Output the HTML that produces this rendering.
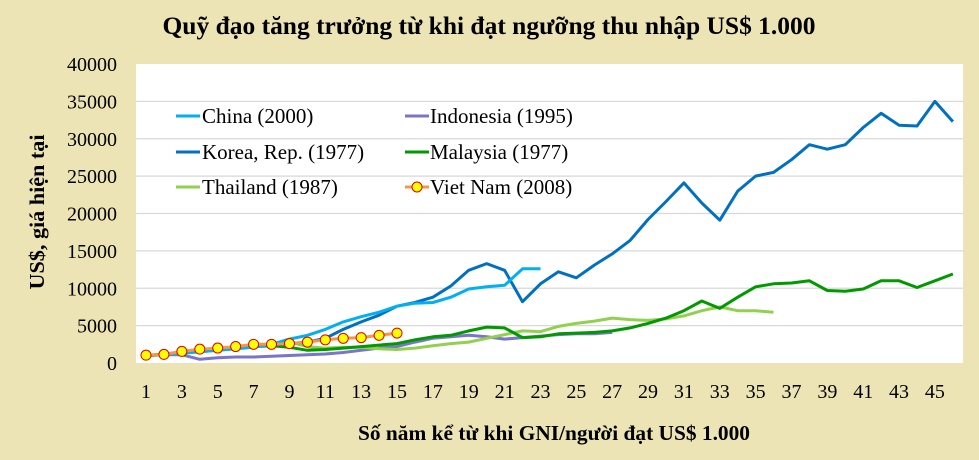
<!DOCTYPE html>
<html><head><meta charset="utf-8"><style>
body{margin:0;background:#ece4b4;}
svg{display:block;font-family:"Liberation Serif",serif;}
</style></head><body>
<svg id="s" width="979" height="460" xmlns="http://www.w3.org/2000/svg">
<rect width="979" height="460" fill="#ece4b4"/>
<rect x="136" y="64" width="827" height="299" fill="#fff"/>
<g id="grid" stroke="#d9d9d9" stroke-width="1.3"></g>
<g id="ylab" font-size="20" text-anchor="end" fill="#000"></g>
<g id="xlab" font-size="20" text-anchor="middle" fill="#000"></g>
<text x="489" y="34" font-size="25" font-weight="bold" text-anchor="middle" textLength="653" lengthAdjust="spacingAndGlyphs">Quỹ đạo tăng trưởng từ khi đạt ngưỡng thu nhập US$ 1.000</text>
<text x="554" y="440" font-size="21" font-weight="bold" text-anchor="middle" textLength="392" lengthAdjust="spacingAndGlyphs">Số năm kể từ khi GNI/người đạt US$ 1.000</text>
<text transform="translate(44,212) rotate(-90)" font-size="21" font-weight="bold" text-anchor="middle" textLength="155" lengthAdjust="spacingAndGlyphs">US$, giá hiện tại</text>
<g id="series" fill="none" stroke-width="3" stroke-linejoin="round"></g>
<g font-size="21" fill="#000">
<line x1="176" y1="116" x2="200" y2="116" stroke="#00b0f0" stroke-width="3"/><text x="202" y="123">China (2000)</text>
<line x1="405" y1="116" x2="429" y2="116" stroke="#7b74cc" stroke-width="3"/><text x="430" y="123">Indonesia (1995)</text>
<line x1="176" y1="152" x2="200" y2="152" stroke="#0070c0" stroke-width="3"/><text x="202" y="159">Korea, Rep. (1977)</text>
<line x1="405" y1="152" x2="429" y2="152" stroke="#009a00" stroke-width="3"/><text x="430" y="159">Malaysia  (1977)</text>
<line x1="176" y1="187" x2="200" y2="187" stroke="#92d050" stroke-width="3"/><text x="202" y="194">Thailand (1987)</text>
<line x1="405" y1="187" x2="429" y2="187" stroke="#f79646" stroke-width="3"/><circle cx="417" cy="187" r="5" fill="#ffff00" stroke="#e00000" stroke-width="1"/><text x="430" y="194">Viet Nam (2008)</text>
</g>
</svg>
<script>
var NS="http://www.w3.org/2000/svg";
function X(i){return 146+(i-1)*17.93;}
function Y(v){return 363-v*0.007475;}
function el(t,a,p){var e=document.createElementNS(NS,t);for(var k in a)e.setAttribute(k,a[k]);document.getElementById(p).appendChild(e);return e;}
for(var v=5000;v<=35000;v+=5000)el('line',{x1:136,x2:963,y1:Y(v),y2:Y(v)},'grid');
for(var v=0;v<=40000;v+=5000){var t=el('text',{x:117,y:Y(v)+7},'ylab');t.textContent=v;}
for(var i=1;i<=45;i+=2){var t=el('text',{x:X(i),y:398},'xlab');t.textContent=i;}
var S=[
["#7b74cc",[1000,1100,1100,500,700,800,800,900,1000,1100,1200,1400,1700,2000,2200,2800,3300,3500,3700,3500,3200,3400,3600,3800,3900,3900,4100]],
["#92d050",[1000,1100,1300,1500,1700,1900,2200,2500,2800,2200,2000,2100,2100,1900,1800,2000,2300,2600,2800,3300,3800,4300,4200,4900,5300,5600,6000,5800,5700,5900,6300,7000,7500,7000,7000,6800]],
["#009a00",[1000,1200,1400,1600,1800,2000,2200,2300,2100,1700,1800,2000,2200,2400,2600,3100,3500,3700,4300,4800,4700,3400,3500,3900,4000,4100,4300,4700,5300,6000,7000,8300,7300,8800,10200,10600,10700,11000,9700,9600,9900,11000,11000,10100,11000,11900]],
["#0070c0",[1000,1100,1500,1600,1800,2000,2200,2400,2600,2800,3300,4500,5500,6400,7600,8100,8800,10300,12400,13300,12400,8200,10600,12200,11400,13100,14600,16400,19200,21600,24100,21400,19100,23000,25000,25500,27200,29200,28600,29200,31500,33400,31800,31700,35000,32300]],
["#00b0f0",[1000,1100,1300,1500,1700,1900,2100,2500,3200,3700,4500,5500,6200,6800,7600,8000,8100,8800,9900,10200,10400,12600,12600]],
["#f79646",[1050,1150,1550,1850,2000,2200,2500,2500,2600,2800,3100,3300,3400,3700,4000]]
];
S.forEach(function(s){var p=s[1].map(function(v,i){return X(i+1).toFixed(1)+','+Y(v).toFixed(1);}).join(' ');el('polyline',{points:p,stroke:s[0]},'series');});
S[5][1].forEach(function(v,i){el('circle',{cx:X(i+1),cy:Y(v),r:5,fill:'#ffff00',stroke:'#e00000','stroke-width':1},'series');});
</script>
</body></html>
